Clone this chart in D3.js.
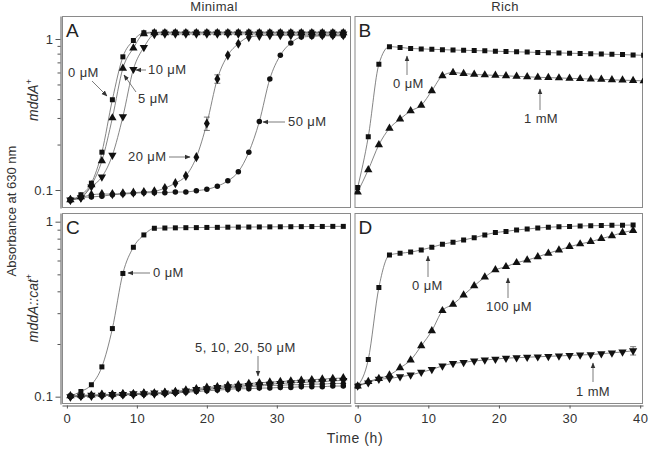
<!DOCTYPE html>
<html>
<head>
<meta charset="utf-8">
<script src="https://cdn.jsdelivr.net/npm/d3@7"></script>
<style>
  body { margin: 0; background: #fff; }
  text { font-family: "Liberation Sans", Arial, sans-serif; fill: #333; }
</style>
</head>
<body>
<div id="chart"></div>
<script>
// sampling times (h)
var tMinimal = [0.5,2,3.5,5,6.5,8,9.5,11,12.5,14,15.5,17,18.5,20,21.5,23,24.5,26,27.5,29,30.5,32,33.5,35,36.5,38,39.5];
var tRichB = [0,1.5,3,4.5,6,7.5,9,10.5,12,13.5,15,16.5,18,19.5,21,22.5,24,25.5,27,28.5,30,31.5,33,34.5,36,37.5,39,40.5];
var tRichD = [0,1.5,3,4.5,6,7.5,9,10.5,12,13.5,15,16.5,18,19.5,21,22.5,24,25.5,27,28.5,30,31.5,33,34.5,36,37.5,39];

// A: mddA+ minimal
var a0 = [0.086,0.093,0.111,0.178,0.396,0.762,0.977,1.10,1.11,1.11, 1.11,1.11,1.11,1.11,1.11,1.11,1.11,1.11,1.11,1.11, 1.11,1.11,1.11,1.11,1.11,1.11,1.11];
var a5 = [0.086,0.090,0.108,0.156,0.300,0.640,0.870,1.08,1.10,1.10, 1.10,1.10,1.10,1.10,1.10,1.10,1.10,1.10,1.10,1.10, 1.10,1.10,1.10,1.10,1.10,1.10,1.10];
var a10 = [0.086,0.089,0.105,0.122,0.170,0.306,0.630,0.880,1.07,1.08, 1.08,1.08,1.08,1.08,1.08,1.08,1.08,1.08,1.08,1.08, 1.08,1.08,1.08,1.08,1.08,1.08,1.08];
var a20 = [0.086,0.089,0.093,0.094,0.094,0.095,0.096,0.097,0.098,0.103, 0.111,0.124,0.165,0.276,0.544,0.780,0.930,1.03,1.05,1.06, 1.06,1.06,1.06,1.06,1.06,1.06,1.06];
var a50 = [0.086,0.089,0.090,0.091,0.093,0.094,0.095,0.096,0.096,0.096, 0.097,0.097,0.099,0.101,0.106,0.115,0.132,0.178,0.284,0.544, 0.780,0.940,1.03,1.04,1.05,1.05,1.05];
var a20err = [0,0,0,0,0,0,0,0,0,0, 0,0,0,0.028,0.035,0,0,0,0,0, 0,0,0,0,0,0,0];

// B: mddA+ rich
var b0 = [0.104,0.225,0.680,0.890,0.880,0.865,0.860,0.855,0.850,0.845, 0.842,0.838,0.835,0.830,0.826,0.822,0.819,0.815,0.812,0.809, 0.805,0.802,0.798,0.795,0.791,0.788,0.784,0.780];
var b1mM = [0.097,0.136,0.199,0.256,0.295,0.334,0.364,0.454,0.570,0.600, 0.590,0.583,0.578,0.574,0.570,0.566,0.562,0.558,0.555,0.552, 0.549,0.546,0.543,0.540,0.537,0.534,0.531,0.528];

// C: mddA::cat+ minimal
var c0 = [0.101,0.107,0.117,0.148,0.245,0.506,0.714,0.840,0.917,0.920, 0.922,0.924,0.925,0.927,0.928,0.930,0.931,0.932,0.933,0.934, 0.935,0.936,0.937,0.938,0.939,0.940,0.940];
var c5 = [0.101,0.102,0.102,0.103,0.103,0.104,0.104,0.105,0.105,0.106, 0.107,0.109,0.111,0.113,0.114,0.116,0.117,0.119,0.120,0.121, 0.122,0.123,0.124,0.125,0.126,0.127,0.128];
var c10 = [0.100,0.101,0.102,0.102,0.103,0.103,0.104,0.104,0.105,0.105, 0.106,0.108,0.110,0.111,0.113,0.114,0.115,0.116,0.117,0.118, 0.119,0.120,0.121,0.121,0.122,0.123,0.124];
var c20 = [0.100,0.101,0.101,0.102,0.102,0.103,0.103,0.104,0.104,0.105, 0.106,0.107,0.109,0.110,0.111,0.112,0.113,0.114,0.115,0.116, 0.116,0.117,0.117,0.118,0.118,0.119,0.119];
var c50 = [0.100,0.100,0.101,0.101,0.102,0.102,0.103,0.103,0.104,0.104, 0.105,0.106,0.107,0.108,0.109,0.110,0.111,0.111,0.112,0.112, 0.113,0.113,0.114,0.114,0.114,0.115,0.115];

// D: mddA::cat+ rich
var d0 = [0.115,0.163,0.420,0.645,0.660,0.670,0.690,0.714,0.743,0.763, 0.786,0.810,0.840,0.866,0.880,0.897,0.908,0.920,0.930,0.935, 0.940,0.945,0.948,0.950,0.953,0.955,0.957];
var d100 = [0.115,0.122,0.127,0.133,0.146,0.162,0.195,0.238,0.310,0.337, 0.381,0.430,0.482,0.530,0.553,0.583,0.603,0.630,0.660,0.689, 0.720,0.746,0.769,0.800,0.830,0.866,0.890];
var d1mM = [0.115,0.120,0.126,0.127,0.130,0.133,0.138,0.143,0.150,0.155, 0.157,0.160,0.162,0.164,0.166,0.167,0.168,0.169,0.170,0.171, 0.172,0.173,0.174,0.176,0.178,0.180,0.183];
var d1mMerr = [0,0,0,0,0,0,0,0,0,0, 0,0,0,0,0,0,0,0,0,0, 0,0,0,0,0,0,0.010];

var majorTicks = [0.1, 1];
var minorTicks = [0.2,0.3,0.4,0.5,0.6,0.7,0.8,0.9];
var timeTicksC = [0,10,20,30];
var timeTicksD = [0,10,20,30,40];

var svg = d3.select("#chart")
  .append("svg")
    .attr("width", 650)
    .attr("height", 450);

// scales
var xLeft = d3.scaleLinear().domain([-0.7, 40.6]).range([62, 351]);
var xRight = d3.scaleLinear().domain([-0.45, 40.4]).range([354.5, 643]);
var yTop = d3.scaleLog().domain([0.076, 1.42]).range([208, 16]);
var yBot = d3.scaleLog().domain([0.0908, 1.121]).range([404, 213]);

var sym = {
  sq: d3.symbol(d3.symbolSquare, 25),
  tri: d3.symbol(d3.symbolTriangle, 30),
  inv: d3.symbol(d3.symbolTriangle, 30),
  dia: d3.symbol(d3.symbolDiamond, 30),
  cir: d3.symbol(d3.symbolCircle, 24)
};

var defs = svg.append("defs");
defs.append("marker")
    .attr("id", "arr")
    .attr("viewBox", "0 0 10 10")
    .attr("refX", 9).attr("refY", 5)
    .attr("markerWidth", 6).attr("markerHeight", 6)
    .attr("markerUnits", "userSpaceOnUse")
    .attr("orient", "auto")
  .append("path")
    .attr("d", "M0,1 L10,5 L0,9 z")
    .attr("fill", "#333");

var panels = [
  {id: "A", x: xLeft, y: yTop, t: tMinimal, series: [
    {v: a0, s: "sq"}, {v: a5, s: "tri"}, {v: a10, s: "inv"}, {v: a20, s: "dia", err: a20err}, {v: a50, s: "cir"}]},
  {id: "B", x: xRight, y: yTop, t: tRichB, series: [
    {v: b0, s: "sq"}, {v: b1mM, s: "tri"}]},
  {id: "C", x: xLeft, y: yBot, t: tMinimal, series: [
    {v: c50, s: "cir"}, {v: c20, s: "dia"}, {v: c10, s: "inv"}, {v: c5, s: "tri"}, {v: c0, s: "sq"}]},
  {id: "D", x: xRight, y: yBot, t: tRichD, series: [
    {v: d0, s: "sq"}, {v: d100, s: "tri"}, {v: d1mM, s: "inv", err: d1mMerr}]}
];

panels.forEach(function(p) {
  var x0 = p.x.range()[0], x1 = p.x.range()[1];
  var y0 = p.y.range()[1], y1 = p.y.range()[0];

  defs.append("clipPath").attr("id", "clip" + p.id)
    .append("rect").attr("x", x0).attr("y", y0).attr("width", x1 - x0).attr("height", y1 - y0);

  svg.append("rect")
    .attr("x", x0 + 0.5).attr("y", y0 + 0.5)
    .attr("width", x1 - x0 - 1).attr("height", y1 - y0 - 1)
    .attr("fill", "none")
    .attr("stroke", "#8a8a8a")
    .attr("stroke-width", 1);

  var g = svg.append("g").attr("clip-path", "url(#clip" + p.id + ")");

  var line = d3.line()
    .x(function(d) { return p.x(d[0]); })
    .y(function(d) { return p.y(d[1]); })
    .curve(d3.curveMonotoneX);

  p.series.forEach(function(s) {
    var pts = p.t.map(function(t, i) { return [t, s.v[i]]; });
    g.append("path")
      .datum(pts)
      .attr("d", line)
      .attr("fill", "none")
      .attr("stroke", "#666")
      .attr("stroke-width", 0.8);
  });

  p.series.forEach(function(s) {
    var pts = p.t.map(function(t, i) { return {t: t, v: s.v[i], e: s.err ? s.err[i] : 0}; });
    var eb = pts.filter(function(d) { return d.e > 0; });
    eb.forEach(function(d) {
      var cx = p.x(d.t), ya = p.y(d.v - d.e), yb = p.y(d.v + d.e);
      g.append("line").attr("x1", cx).attr("x2", cx).attr("y1", ya).attr("y2", yb)
        .attr("stroke", "#555").attr("stroke-width", 0.8);
      [ya, yb].forEach(function(yy) {
        g.append("line").attr("x1", cx - 3).attr("x2", cx + 3).attr("y1", yy).attr("y2", yy)
          .attr("stroke", "#555").attr("stroke-width", 0.8);
      });
    });
    g.selectAll(null)
      .data(pts)
      .enter()
      .append("path")
        .attr("d", sym[s.s])
        .attr("transform", function(d) {
          return "translate(" + p.x(d.t) + "," + p.y(d.v) + ")" + (s.s == "inv" ? " rotate(180)" : "");
        })
        .attr("fill", "#111");
  });

  svg.append("text")
    .attr("x", x0 + 4)
    .attr("y", y0 + 21)
    .style("font-size", "19px")
    .style("fill", "#222")
    .text(p.id);
});

// y axes (left panels only)
[yTop, yBot].forEach(function(y) {
  var major = svg.append("g")
    .attr("transform", "translate(60.5,0)")
    .call(d3.axisLeft(y).tickValues(majorTicks).tickSize(5).tickSizeOuter(0).tickPadding(2)
      .tickFormat(function(d) { return d == 1 ? "1" : "0.1"; }));
  var minor = svg.append("g")
    .attr("transform", "translate(60.5,0)")
    .call(d3.axisLeft(y).tickValues(minorTicks).tickSize(3).tickFormat(""));
  minor.select(".domain").remove();
  [major, minor].forEach(function(a) {
    a.selectAll("line").attr("stroke", "#555");
    a.select(".domain").attr("stroke", "#555");
    a.selectAll("text").style("font-size", "13px").style("fill", "#333")
      .style("letter-spacing", "0.4px")
      .style("font-family", "'Liberation Sans', Arial, sans-serif");
  });
});

// x axes (bottom panels only)
[[xLeft, timeTicksC], [xRight, timeTicksD]].forEach(function(o) {
  var ax = svg.append("g")
    .attr("transform", "translate(0,405.5)")
    .call(d3.axisBottom(o[0]).tickValues(o[1]).tickSize(3).tickSizeOuter(0).tickPadding(5));
  ax.selectAll("line").attr("stroke", "#555");
  ax.select(".domain").attr("stroke", "#555");
  ax.selectAll("text").style("font-size", "13px").style("fill", "#333")
    .style("letter-spacing", "0.4px")
    .style("font-family", "'Liberation Sans', Arial, sans-serif");
});

// titles
svg.append("text").attr("x", 214).attr("y", 11).attr("text-anchor", "middle")
  .style("font-size", "13px").style("letter-spacing", "0.4px").text("Minimal");
svg.append("text").attr("x", 505).attr("y", 11).attr("text-anchor", "middle")
  .style("font-size", "13px").style("letter-spacing", "0.4px").text("Rich");
svg.append("text").attr("x", 355).attr("y", 443).attr("text-anchor", "middle")
  .style("font-size", "14px").style("letter-spacing", "0.6px").text("Time (h)");
svg.append("text")
  .attr("transform", "translate(16,211) rotate(-90)")
  .attr("text-anchor", "middle")
  .style("font-size", "13px")
  .text("Absorbance at 630 nm");

var lab1 = svg.append("text")
  .attr("transform", "translate(38,100) rotate(-90)")
  .attr("text-anchor", "middle")
  .style("font-size", "14px")
  .style("font-style", "italic");
lab1.append("tspan").text("mddA");
lab1.append("tspan").attr("dy", -6).style("font-size", "9px").style("font-style", "normal").text("+");

var lab2 = svg.append("text")
  .attr("transform", "translate(38,308) rotate(-90)")
  .attr("text-anchor", "middle")
  .style("font-size", "14px")
  .style("font-style", "italic");
lab2.append("tspan").text("mddA::cat");
lab2.append("tspan").attr("dy", -6).style("font-size", "9px").style("font-style", "normal").text("+");

// annotations: text position and arrow
var notes = [
  {txt: "0 μM", tx: 68, ty: 77, a: [92, 81, 107, 96]},
  {txt: "10 μM", tx: 148, ty: 74, a: [146, 70, 136, 70]},
  {txt: "5 μM", tx: 138, ty: 103, a: [136, 92, 124, 75]},
  {txt: "20 μM", tx: 128, ty: 161, a: [169, 157, 190, 157]},
  {txt: "50 μM", tx: 288, ty: 126, a: [285, 122, 263, 122]},
  {txt: "0 μM", tx: 393, ty: 88, a: [407, 75, 407, 56]},
  {txt: "1 mM", tx: 524, ty: 123, a: [540, 110, 540, 89]},
  {txt: "0 μM", tx: 153, ty: 277, a: [150, 273, 128, 273]},
  {txt: "5, 10, 20, 50 μM", tx: 195, ty: 352, a: [258, 356, 258, 376]},
  {txt: "0 μM", tx: 412, ty: 290, a: [428, 277, 428, 256]},
  {txt: "100 μM", tx: 486, ty: 311, a: [508, 298, 508, 278]},
  {txt: "1 mM", tx: 576, ty: 396, a: [593, 382, 593, 363]}
];
notes.forEach(function(n) {
  svg.append("text").attr("x", n.tx).attr("y", n.ty)
    .style("font-size", "13px").style("letter-spacing", "0.4px").text(n.txt);
  svg.append("line")
    .attr("x1", n.a[0]).attr("y1", n.a[1]).attr("x2", n.a[2]).attr("y2", n.a[3])
    .attr("stroke", "#444").attr("stroke-width", 0.7)
    .attr("marker-end", "url(#arr)");
});
</script>
</body>
</html>
